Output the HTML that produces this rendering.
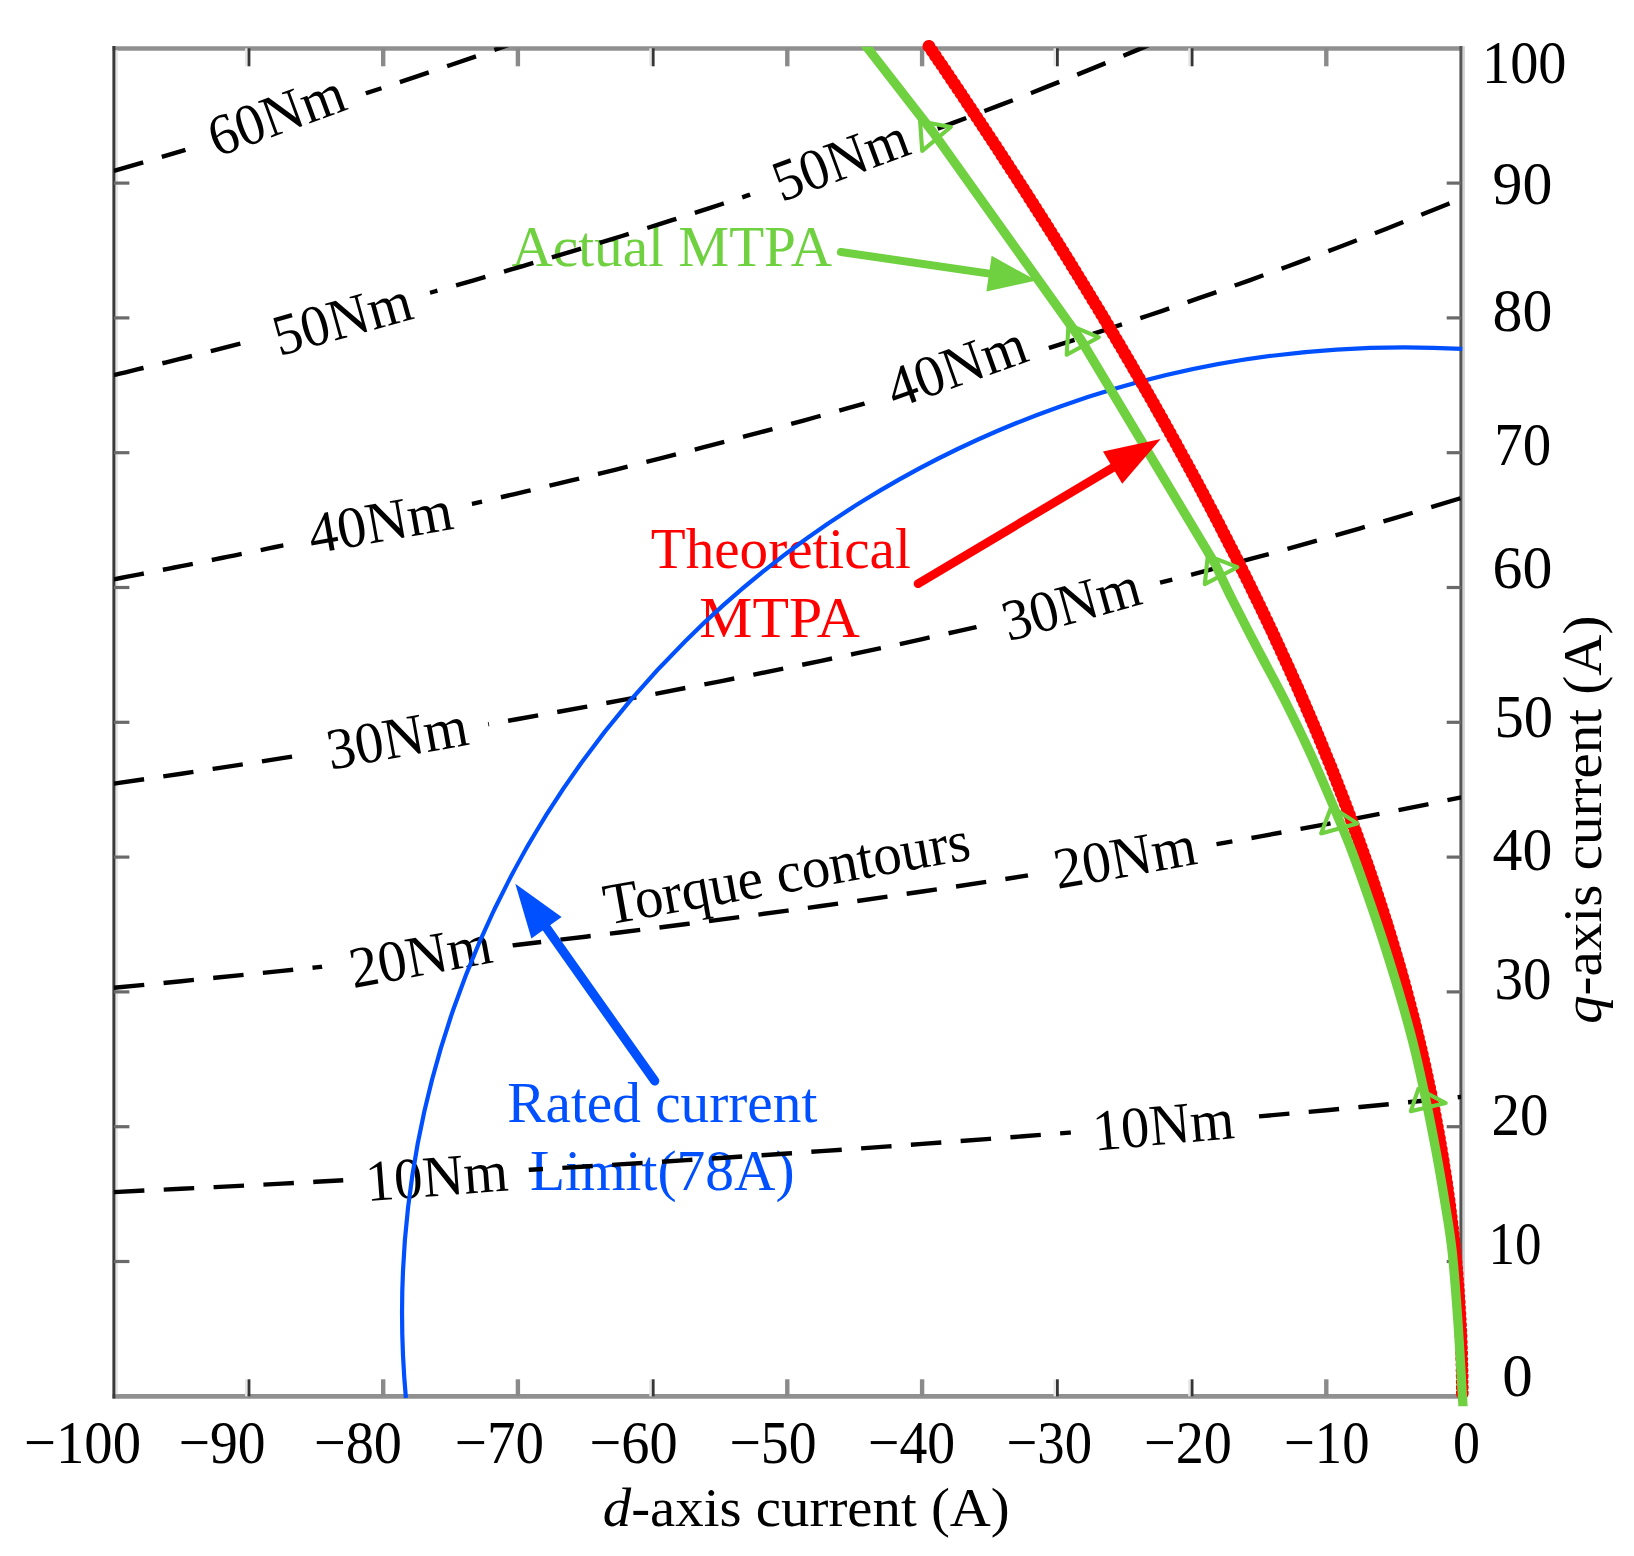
<!DOCTYPE html>
<html><head><meta charset="utf-8"><title>MTPA trajectories</title>
<style>html,body{margin:0;padding:0;background:#fff}body{width:1634px;height:1556px;overflow:hidden}</style></head>
<body>
<svg width="1634" height="1556" viewBox="0 0 1634 1556" style="display:block">
<rect width="1634" height="1556" fill="#fff"/>
<defs>
<clipPath id="plot"><rect x="113.9" y="47.3" width="1347.3" height="1349.0"/></clipPath>
<clipPath id="plot2"><rect x="113.9" y="46.8" width="1355.3" height="1359.5"/></clipPath>
<mask id="lm" maskUnits="userSpaceOnUse" x="0" y="0" width="1634" height="1556"><rect width="1634" height="1556" fill="#fff"/>
<rect x="185.7" y="78.2" width="188.8" height="70" fill="#000" transform="rotate(-20.20 283.1 133.2)"/>
<rect x="249.9" y="282.2" width="189.0" height="70" fill="#000" transform="rotate(-15.60 347.4 337.2)"/>
<rect x="750.3" y="122.8" width="187.9" height="70" fill="#000" transform="rotate(-20.30 847.3 177.8)"/>
<rect x="284.2" y="486.3" width="192.9" height="70" fill="#000" transform="rotate(-10.10 383.6 541.3)"/>
<rect x="864.0" y="329.6" width="192.2" height="70" fill="#000" transform="rotate(-19.70 963.1 384.6)"/>
<rect x="302.7" y="702.0" width="189.9" height="70" fill="#000" transform="rotate(-10.25 400.6 757.0)"/>
<rect x="979.0" y="567.5" width="188.7" height="70" fill="#000" transform="rotate(-15.60 1076.4 622.5)"/>
<rect x="325.3" y="920.2" width="191.3" height="70" fill="#000" transform="rotate(-10.50 423.9 975.2)"/>
<rect x="1029.7" y="821.4" width="191.1" height="70" fill="#000" transform="rotate(-10.20 1128.2 876.4)"/>
<rect x="344.8" y="1140.7" width="185.7" height="70" fill="#000" transform="rotate(-4.40 440.6 1195.7)"/>
<rect x="1072.3" y="1089.1" width="184.6" height="70" fill="#000" transform="rotate(-5.20 1167.6 1144.1)"/>
</mask>
</defs>
<g fill="none">
<line x1="112.5" y1="48.5" x2="1462.4" y2="48.5" stroke="#909090" stroke-width="4.7"/>
<line x1="112.5" y1="1396.3" x2="1462.4" y2="1396.3" stroke="#909090" stroke-width="4.7"/>
<line x1="116.6" y1="50.3" x2="116.6" y2="1394.3" stroke="#e6e6e6" stroke-width="2.6"/>
<line x1="1463.6" y1="46.3" x2="1463.6" y2="1398.3" stroke="#d2d2d2" stroke-width="2.6"/>
<line x1="113.9" y1="46.1" x2="113.9" y2="1398.5" stroke="#3a3a3a" stroke-width="3"/>
<line x1="1460.9" y1="46.1" x2="1460.9" y2="1398.5" stroke="#555" stroke-width="3"/>
<line x1="246.4" y1="48.3" x2="246.4" y2="66.3" stroke="#e6e6e6" stroke-width="2.6"/>
<line x1="249.0" y1="48.3" x2="249.0" y2="66.3" stroke="#363636" stroke-width="2.8"/>
<line x1="246.4" y1="1396.3" x2="246.4" y2="1379.3" stroke="#e6e6e6" stroke-width="2.6"/>
<line x1="249.0" y1="1396.3" x2="249.0" y2="1379.3" stroke="#363636" stroke-width="2.8"/>
<line x1="113.9" y1="183.1" x2="129.4" y2="183.1" stroke="#6a6a6a" stroke-width="3.2"/>
<line x1="1461.2" y1="183.1" x2="1446.7" y2="183.1" stroke="#6a6a6a" stroke-width="3.2"/>
<line x1="383.2" y1="48.3" x2="383.2" y2="66.3" stroke="#8a8a8a" stroke-width="4.4"/>
<line x1="383.2" y1="1396.3" x2="383.2" y2="1379.3" stroke="#8a8a8a" stroke-width="4.4"/>
<line x1="113.9" y1="317.9" x2="129.4" y2="317.9" stroke="#6a6a6a" stroke-width="3.2"/>
<line x1="1461.2" y1="317.9" x2="1446.7" y2="317.9" stroke="#6a6a6a" stroke-width="3.2"/>
<line x1="517.9" y1="48.3" x2="517.9" y2="66.3" stroke="#8a8a8a" stroke-width="4.4"/>
<line x1="517.9" y1="1396.3" x2="517.9" y2="1379.3" stroke="#8a8a8a" stroke-width="4.4"/>
<line x1="113.9" y1="452.7" x2="129.4" y2="452.7" stroke="#6a6a6a" stroke-width="3.2"/>
<line x1="1461.2" y1="452.7" x2="1446.7" y2="452.7" stroke="#6a6a6a" stroke-width="3.2"/>
<line x1="650.6" y1="48.3" x2="650.6" y2="66.3" stroke="#e6e6e6" stroke-width="2.6"/>
<line x1="653.2" y1="48.3" x2="653.2" y2="66.3" stroke="#363636" stroke-width="2.8"/>
<line x1="650.6" y1="1396.3" x2="650.6" y2="1379.3" stroke="#e6e6e6" stroke-width="2.6"/>
<line x1="653.2" y1="1396.3" x2="653.2" y2="1379.3" stroke="#363636" stroke-width="2.8"/>
<line x1="113.9" y1="587.5" x2="129.4" y2="587.5" stroke="#6a6a6a" stroke-width="3.2"/>
<line x1="1461.2" y1="587.5" x2="1446.7" y2="587.5" stroke="#6a6a6a" stroke-width="3.2"/>
<line x1="787.3" y1="48.3" x2="787.3" y2="66.3" stroke="#8a8a8a" stroke-width="4.4"/>
<line x1="787.3" y1="1396.3" x2="787.3" y2="1379.3" stroke="#8a8a8a" stroke-width="4.4"/>
<line x1="113.9" y1="722.3" x2="129.4" y2="722.3" stroke="#6a6a6a" stroke-width="3.2"/>
<line x1="1461.2" y1="722.3" x2="1446.7" y2="722.3" stroke="#6a6a6a" stroke-width="3.2"/>
<line x1="922.1" y1="48.3" x2="922.1" y2="66.3" stroke="#8a8a8a" stroke-width="4.4"/>
<line x1="922.1" y1="1396.3" x2="922.1" y2="1379.3" stroke="#8a8a8a" stroke-width="4.4"/>
<line x1="113.9" y1="857.1" x2="129.4" y2="857.1" stroke="#6a6a6a" stroke-width="3.2"/>
<line x1="1461.2" y1="857.1" x2="1446.7" y2="857.1" stroke="#6a6a6a" stroke-width="3.2"/>
<line x1="1054.8" y1="48.3" x2="1054.8" y2="66.3" stroke="#e6e6e6" stroke-width="2.6"/>
<line x1="1057.4" y1="48.3" x2="1057.4" y2="66.3" stroke="#363636" stroke-width="2.8"/>
<line x1="1054.8" y1="1396.3" x2="1054.8" y2="1379.3" stroke="#e6e6e6" stroke-width="2.6"/>
<line x1="1057.4" y1="1396.3" x2="1057.4" y2="1379.3" stroke="#363636" stroke-width="2.8"/>
<line x1="113.9" y1="991.9" x2="129.4" y2="991.9" stroke="#6a6a6a" stroke-width="3.2"/>
<line x1="1461.2" y1="991.9" x2="1446.7" y2="991.9" stroke="#6a6a6a" stroke-width="3.2"/>
<line x1="1189.5" y1="48.3" x2="1189.5" y2="66.3" stroke="#e6e6e6" stroke-width="2.6"/>
<line x1="1192.1" y1="48.3" x2="1192.1" y2="66.3" stroke="#363636" stroke-width="2.8"/>
<line x1="1189.5" y1="1396.3" x2="1189.5" y2="1379.3" stroke="#e6e6e6" stroke-width="2.6"/>
<line x1="1192.1" y1="1396.3" x2="1192.1" y2="1379.3" stroke="#363636" stroke-width="2.8"/>
<line x1="113.9" y1="1126.7" x2="129.4" y2="1126.7" stroke="#6a6a6a" stroke-width="3.2"/>
<line x1="1461.2" y1="1126.7" x2="1446.7" y2="1126.7" stroke="#6a6a6a" stroke-width="3.2"/>
<line x1="1326.3" y1="48.3" x2="1326.3" y2="66.3" stroke="#8a8a8a" stroke-width="4.4"/>
<line x1="1326.3" y1="1396.3" x2="1326.3" y2="1379.3" stroke="#8a8a8a" stroke-width="4.4"/>
<line x1="113.9" y1="1261.5" x2="129.4" y2="1261.5" stroke="#6a6a6a" stroke-width="3.2"/>
<line x1="1461.2" y1="1261.5" x2="1446.7" y2="1261.5" stroke="#6a6a6a" stroke-width="3.2"/>
</g>
<g font-family='"Liberation Serif", serif'>
<text x="511.5" y="265.6" font-size="57.0" fill="#6fd040" text-anchor="start" textLength="320.5" lengthAdjust="spacingAndGlyphs">Actual MTPA</text>
<text x="650.8" y="568.2" font-size="57.0" fill="#ff0000" text-anchor="start" textLength="260.0" lengthAdjust="spacingAndGlyphs">Theoretical</text>
<text x="699.3" y="636.9" font-size="57.0" fill="#ff0000" text-anchor="start" textLength="160.5" lengthAdjust="spacingAndGlyphs">MTPA</text>
<text x="507.3" y="1121.6" font-size="57.0" fill="#0050ff" text-anchor="start" textLength="310.0" lengthAdjust="spacingAndGlyphs">Rated current</text>
<text x="530.0" y="1190.3" font-size="57.0" fill="#0050ff" text-anchor="start" textLength="264.5" lengthAdjust="spacingAndGlyphs">Limit(78A)</text>
</g>
<g clip-path="url(#plot)"><g mask="url(#lm)" fill="none" stroke="#000" stroke-width="4.4" stroke-dasharray="30.5 19.4">
<path d="M113.9 1192.1 L147.6 1190.4 L181.3 1188.8 L214.9 1187.1 L248.6 1185.4 L282.3 1183.6 L316.0 1181.8 L349.7 1180.0 L383.4 1178.2 L417.0 1176.3 L450.7 1174.4 L484.4 1172.5 L518.1 1170.5 L551.8 1168.5 L585.5 1166.5 L619.1 1164.4 L652.8 1162.3 L686.5 1160.1 L720.2 1158.0 L753.9 1155.7 L787.6 1153.5 L821.2 1151.1 L854.9 1148.8 L888.6 1146.4 L922.3 1143.9 L956.0 1141.4 L989.6 1138.9 L1023.3 1136.3 L1057.0 1133.6 L1090.7 1130.9 L1124.4 1128.1 L1158.1 1125.3 L1191.7 1122.4 L1225.4 1119.4 L1259.1 1116.4 L1292.8 1113.3 L1326.5 1110.2 L1360.2 1107.0 L1393.8 1103.7 L1427.5 1100.3 L1461.2 1096.9" stroke-dashoffset="0.0"/>
<path d="M113.9 987.8 L147.6 984.5 L181.3 981.2 L214.9 977.8 L248.6 974.4 L282.3 970.9 L316.0 967.4 L349.7 963.7 L383.4 960.1 L417.0 956.3 L450.7 952.5 L484.4 948.7 L518.1 944.7 L551.8 940.7 L585.5 936.7 L619.1 932.5 L652.8 928.3 L686.5 924.0 L720.2 919.6 L753.9 915.2 L787.6 910.6 L821.2 906.0 L854.9 901.3 L888.6 896.4 L922.3 891.5 L956.0 886.5 L989.6 881.4 L1023.3 876.2 L1057.0 870.9 L1090.7 865.5 L1124.4 859.9 L1158.1 854.3 L1191.7 848.5 L1225.4 842.6 L1259.1 836.6 L1292.8 830.4 L1326.5 824.1 L1360.2 817.6 L1393.8 811.1 L1427.5 804.3 L1461.2 797.4" stroke-dashoffset="0.0"/>
<path d="M113.9 783.6 L147.6 778.7 L181.3 773.7 L214.9 768.6 L248.6 763.5 L282.3 758.2 L316.0 752.9 L349.7 747.5 L383.4 742.0 L417.0 736.4 L450.7 730.7 L484.4 724.9 L518.1 719.0 L551.8 713.0 L585.5 706.9 L619.1 700.6 L652.8 694.3 L686.5 687.8 L720.2 681.3 L753.9 674.6 L787.6 667.8 L821.2 660.8 L854.9 653.7 L888.6 646.5 L922.3 639.1 L956.0 631.6 L989.6 624.0 L1023.3 616.2 L1057.0 608.2 L1090.7 600.0 L1124.4 591.7 L1158.1 583.2 L1191.7 574.6 L1225.4 565.7 L1259.1 556.7 L1292.8 547.4 L1326.5 538.0 L1360.2 528.3 L1393.8 518.4 L1427.5 508.3 L1461.2 498.0" stroke-dashoffset="0.0"/>
<path d="M113.9 579.3 L120.6 578.0 L127.4 576.7 L134.1 575.4 L140.8 574.1 L147.5 572.8 L154.3 571.5 L161.0 570.1 L167.7 568.8 L174.4 567.5 L181.2 566.2 L187.9 564.8 L194.6 563.5 L201.4 562.1 L208.1 560.8 L214.8 559.4 L221.5 558.0 L228.3 556.7 L235.0 555.3 L241.7 553.9 L248.5 552.5 L255.2 551.2 L261.9 549.8 L268.6 548.4 L275.4 547.0 L282.1 545.6 L288.8 544.2 L295.5 542.7 L302.3 541.3 L309.0 539.9 L315.7 538.5 L322.5 537.0 L329.2 535.6 L335.9 534.2 L342.6 532.7 L349.4 531.3 L356.1 529.8 L362.8 528.3 L369.5 526.9 L376.3 525.4 L383.0 523.9" stroke-dashoffset="0.0"/>
<path d="M383.0 523.9 L397.5 520.7 L412.0 517.5 L426.5 514.3 L441.0 511.0 L455.5 507.7 L470.0 504.4 L484.5 501.0 L499.0 497.7 L513.5 494.3 L528.0 490.9 L542.5 487.4 L557.0 483.9 L571.5 480.4 L586.0 476.9 L600.5 473.4 L615.0 469.8 L629.5 466.2 L644.0 462.5 L658.5 458.9 L673.0 455.2 L687.5 451.4 L702.0 447.7 L716.5 443.9 L731.0 440.1 L745.5 436.2 L760.0 432.4 L774.5 428.5 L789.0 424.5 L803.5 420.6 L818.0 416.5 L832.5 412.5 L847.0 408.4 L861.5 404.3 L876.0 400.2 L890.5 396.0 L905.0 391.8 L919.5 387.6 L934.0 383.3 L948.5 379.0 L963.0 374.6" stroke-dashoffset="28.8"/>
<path d="M963.0 374.6 L975.5 370.9 L987.9 367.1 L1000.4 363.2 L1012.8 359.4 L1025.3 355.5 L1037.7 351.6 L1050.2 347.6 L1062.6 343.7 L1075.1 339.7 L1087.6 335.6 L1100.0 331.6 L1112.5 327.5 L1124.9 323.4 L1137.4 319.2 L1149.8 315.0 L1162.3 310.8 L1174.7 306.5 L1187.2 302.2 L1199.6 297.9 L1212.1 293.6 L1224.6 289.2 L1237.0 284.7 L1249.5 280.3 L1261.9 275.8 L1274.4 271.2 L1286.8 266.7 L1299.3 262.1 L1311.7 257.4 L1324.2 252.7 L1336.7 248.0 L1349.1 243.2 L1361.6 238.4 L1374.0 233.6 L1386.5 228.7 L1398.9 223.8 L1411.4 218.8 L1423.8 213.8 L1436.3 208.8 L1448.7 203.7 L1461.2 198.5" stroke-dashoffset="13.5"/>
<path d="M113.9 375.1 L119.7 373.7 L125.6 372.3 L131.4 370.9 L137.2 369.4 L143.0 368.0 L148.9 366.6 L154.7 365.2 L160.5 363.7 L166.3 362.3 L172.2 360.8 L178.0 359.4 L183.8 358.0 L189.7 356.5 L195.5 355.0 L201.3 353.6 L207.1 352.1 L213.0 350.6 L218.8 349.2 L224.6 347.7 L230.5 346.2 L236.3 344.7 L242.1 343.2 L247.9 341.7 L253.8 340.2 L259.6 338.7 L265.4 337.2 L271.2 335.7 L277.1 334.2 L282.9 332.7 L288.7 331.1 L294.6 329.6 L300.4 328.1 L306.2 326.5 L312.0 325.0 L317.9 323.5 L323.7 321.9 L329.5 320.3 L335.3 318.8 L341.2 317.2 L347.0 315.6" stroke-dashoffset="0.0"/>
<path d="M347.0 315.6 L359.5 312.3 L372.0 308.9 L384.5 305.4 L397.0 302.0 L409.5 298.5 L422.0 295.0 L434.5 291.5 L447.0 288.0 L459.5 284.4 L472.0 280.8 L484.5 277.2 L497.0 273.6 L509.5 269.9 L522.0 266.3 L534.5 262.6 L547.0 258.8 L559.5 255.1 L572.0 251.3 L584.5 247.5 L597.0 243.7 L609.5 239.8 L622.0 236.0 L634.5 232.1 L647.0 228.1 L659.5 224.2 L672.0 220.2 L684.5 216.2 L697.0 212.2 L709.5 208.1 L722.0 204.0 L734.5 199.9 L747.0 195.7 L759.5 191.6 L772.0 187.3 L784.5 183.1 L797.0 178.8 L809.5 174.5 L822.0 170.2 L834.5 165.9 L847.0 161.5" stroke-dashoffset="36.5"/>
<path d="M847.0 161.5 L862.4 156.0 L877.7 150.6 L893.1 145.0 L908.4 139.5 L923.8 133.8 L939.1 128.1 L954.5 122.4 L969.8 116.6 L985.2 110.8 L1000.6 104.9 L1015.9 99.0 L1031.3 93.0 L1046.6 86.9 L1062.0 80.8 L1077.3 74.6 L1092.7 68.4 L1108.0 62.1 L1123.4 55.8 L1138.7 49.4 L1154.1 42.9 L1169.5 36.4 L1184.8 29.8 L1200.2 23.1 L1215.5 16.4 L1230.9 9.6 L1246.2 2.7 L1261.6 -4.2 L1276.9 -11.2 L1292.3 -18.3 L1307.7 -25.4 L1323.0 -32.6 L1338.4 -39.9 L1353.7 -47.2 L1369.1 -54.7 L1384.4 -62.2 L1399.8 -69.8 L1415.1 -77.4 L1430.5 -85.2 L1445.8 -93.0 L1461.2 -100.9" stroke-dashoffset="3.4"/>
<path d="M113.9 170.8 L147.6 161.0 L181.3 151.1 L214.9 140.9 L248.6 130.6 L282.3 120.1 L316.0 109.5 L349.7 98.6 L383.4 87.6 L417.0 76.4 L450.7 65.0 L484.4 53.4 L518.1 41.6 L551.8 29.6 L585.5 17.4 L619.1 5.0 L652.8 -7.7 L686.5 -20.6 L720.2 -33.7 L753.9 -47.1 L787.6 -60.8 L821.2 -74.7 L854.9 -88.8 L888.6 -103.3 L922.3 -118.0 L956.0 -133.0 L989.6 -148.4 L1023.3 -164.0 L1057.0 -179.9 L1090.7 -196.2 L1124.4 -212.8 L1158.1 -229.8 L1191.7 -247.1 L1225.4 -264.9 L1259.1 -282.9 L1292.8 -301.4 L1326.5 -320.3 L1360.2 -339.7 L1393.8 -359.4 L1427.5 -379.7 L1461.2 -400.3" stroke-dashoffset="0.0"/>
</g></g>
<g font-family='"Liberation Serif", serif' font-size="58.5" text-anchor="middle">
<text x="283.1" y="133.2" transform="rotate(-20.20 283.1 133.2)" textLength="141.3" lengthAdjust="spacingAndGlyphs">60Nm</text>
<text x="347.4" y="337.2" transform="rotate(-15.60 347.4 337.2)" textLength="141.5" lengthAdjust="spacingAndGlyphs">50Nm</text>
<text x="847.3" y="177.8" transform="rotate(-20.30 847.3 177.8)" textLength="140.4" lengthAdjust="spacingAndGlyphs">50Nm</text>
<text x="383.6" y="541.3" transform="rotate(-10.10 383.6 541.3)" textLength="145.4" lengthAdjust="spacingAndGlyphs">40Nm</text>
<text x="963.1" y="384.6" transform="rotate(-19.70 963.1 384.6)" textLength="144.7" lengthAdjust="spacingAndGlyphs">40Nm</text>
<text x="400.6" y="757.0" transform="rotate(-10.25 400.6 757.0)" textLength="142.4" lengthAdjust="spacingAndGlyphs">30Nm</text>
<text x="1076.4" y="622.5" transform="rotate(-15.60 1076.4 622.5)" textLength="141.2" lengthAdjust="spacingAndGlyphs">30Nm</text>
<text x="423.9" y="975.2" transform="rotate(-10.50 423.9 975.2)" textLength="143.8" lengthAdjust="spacingAndGlyphs">20Nm</text>
<text x="1128.2" y="876.4" transform="rotate(-10.20 1128.2 876.4)" textLength="143.6" lengthAdjust="spacingAndGlyphs">20Nm</text>
<text x="438.1" y="1195.7" transform="rotate(-4.40 440.6 1195.7)" textLength="142.7" lengthAdjust="spacingAndGlyphs">10Nm</text>
<text x="1165.1" y="1144.1" transform="rotate(-5.20 1167.6 1144.1)" textLength="141.6" lengthAdjust="spacingAndGlyphs">10Nm</text>
<text x="607.5" y="924.7" text-anchor="start" transform="rotate(-10.2 607.5 924.7)" textLength="371" lengthAdjust="spacingAndGlyphs">Torque contours</text>
</g>
<path d="M405.9 1398 A1003.4 967 0 0 1 1462.3 348.9" fill="none" stroke="#0050ff" stroke-width="4.2"/>
<path d="M1462.3 1396.3 L1462.3 1389.5 L1462.2 1382.8 L1462.2 1376.0 L1462.0 1369.3 L1461.9 1362.5 L1461.7 1355.8 L1461.5 1349.0 L1461.3 1342.3 L1461.0 1335.5 L1460.7 1328.8 L1460.4 1322.0 L1460.0 1315.3 L1459.6 1308.5 L1459.2 1301.8 L1458.7 1295.0 L1458.3 1288.3 L1457.7 1281.5 L1457.2 1274.8 L1456.6 1268.0 L1456.0 1261.3 L1455.3 1254.5 L1454.7 1247.8 L1454.0 1241.0 L1453.2 1234.3 L1452.5 1227.5 L1451.7 1220.8 L1450.8 1214.0 L1450.0 1207.3 L1449.1 1200.5 L1448.1 1193.8 L1447.2 1187.0 L1446.2 1180.3 L1445.2 1173.5 L1444.1 1166.8 L1443.1 1160.0 L1442.0 1153.3 L1440.8 1146.5 L1439.7 1139.8 L1438.5 1133.0 L1437.2 1126.3 L1436.0 1119.5 L1434.7 1112.8 L1433.4 1106.0 L1432.0 1099.3 L1430.7 1092.5 L1429.2 1085.8 L1427.8 1079.0 L1426.3 1072.3 L1424.9 1065.5 L1423.3 1058.8 L1421.8 1052.0 L1420.2 1045.3 L1418.6 1038.5 L1416.9 1031.8 L1415.3 1025.0 L1413.6 1018.3 L1411.8 1011.5 L1410.1 1004.8 L1408.3 998.0 L1406.5 991.3 L1404.7 984.5 L1402.8 977.8 L1400.9 971.0 L1399.0 964.3 L1397.0 957.5 L1395.0 950.8 L1393.0 944.0 L1391.0 937.3 L1388.9 930.5 L1386.9 923.8 L1384.7 917.0 L1382.6 910.3 L1380.4 903.5 L1378.2 896.8 L1376.0 890.0 L1373.8 883.3 L1371.5 876.5 L1369.2 869.8 L1366.9 863.0 L1364.5 856.3 L1362.1 849.5 L1359.7 842.8 L1357.3 836.0 L1354.8 829.3 L1352.3 822.5 L1349.8 815.8 L1347.3 809.0 L1344.7 802.3 L1342.2 795.5 L1339.5 788.8 L1336.9 782.0 L1334.3 775.3 L1331.6 768.5 L1328.9 761.8 L1326.1 755.0 L1323.4 748.3 L1320.6 741.5 L1317.8 734.8 L1315.0 728.0 L1312.1 721.3 L1309.2 714.5 L1306.3 707.8 L1303.4 701.0 L1300.5 694.3 L1297.5 687.5 L1294.5 680.8 L1291.5 674.0 L1288.5 667.3 L1285.4 660.5 L1282.3 653.8 L1279.2 647.0 L1276.1 640.3 L1273.0 633.5 L1269.8 626.8 L1266.6 620.0 L1263.4 613.3 L1260.2 606.5 L1256.9 599.8 L1253.6 593.0 L1250.4 586.3 L1247.0 579.5 L1243.7 572.8 L1240.3 566.0 L1237.0 559.3 L1233.6 552.5 L1230.1 545.8 L1226.7 539.0 L1223.2 532.3 L1219.8 525.5 L1216.3 518.8 L1212.7 512.0 L1209.2 505.3 L1205.6 498.5 L1202.1 491.8 L1198.5 485.0 L1194.9 478.3 L1191.2 471.5 L1187.6 464.8 L1183.9 458.0 L1180.2 451.3 L1176.5 444.5 L1172.8 437.8 L1169.0 431.0 L1165.3 424.3 L1161.5 417.5 L1157.7 410.8 L1153.9 404.0 L1150.0 397.3 L1146.2 390.5 L1142.3 383.8 L1138.4 377.0 L1134.5 370.3 L1130.6 363.5 L1126.6 356.8 L1122.7 350.0 L1118.7 343.3 L1114.7 336.5 L1110.7 329.8 L1106.7 323.0 L1102.7 316.3 L1098.6 309.5 L1094.5 302.8 L1090.4 296.0 L1086.3 289.3 L1082.2 282.5 L1078.1 275.8 L1073.9 269.0 L1069.8 262.3 L1065.6 255.5 L1061.4 248.8 L1057.2 242.0 L1053.0 235.3 L1048.7 228.5 L1044.5 221.8 L1040.2 215.0 L1035.9 208.3 L1031.6 201.5 L1027.3 194.8 L1023.0 188.0 L1018.6 181.3 L1014.3 174.5 L1009.9 167.8 L1005.5 161.0 L1001.1 154.3 L996.7 147.5 L992.3 140.8 L987.8 134.0 L983.4 127.3 L978.9 120.5 L974.4 113.8 L969.9 107.0 L965.4 100.3 L960.9 93.5 L956.4 86.8 L951.8 80.0 L947.3 73.3 L942.7 66.5 L938.1 59.8 L933.5 53.0 L928.9 46.3" fill="none" stroke="#ff0000" stroke-width="9.2" stroke-linecap="round"/>
<path d="M928.9 46.3 L933.5 53.0 L938.1 59.8 L942.7 66.5 L947.3 73.3 L951.8 80.0 L956.4 86.8 L960.9 93.5 L965.4 100.3 L969.9 107.0 L974.4 113.8 L978.9 120.5 L983.4 127.3 L987.8 134.0 L992.3 140.8 L996.7 147.5 L1001.1 154.3 L1005.5 161.0 L1009.9 167.8 L1014.3 174.5 L1018.6 181.3 L1023.0 188.0 L1027.3 194.8 L1031.6 201.5 L1035.9 208.3 L1040.2 215.0 L1044.5 221.8 L1048.7 228.5 L1053.0 235.3 L1057.2 242.0 L1061.4 248.8 L1065.6 255.5 L1069.8 262.3 L1073.9 269.0 L1078.1 275.8 L1082.2 282.5 L1086.3 289.3 L1090.4 296.0 L1094.5 302.8 L1098.6 309.5 L1102.7 316.3 L1106.7 323.0 L1110.7 329.8 L1114.7 336.5 L1118.7 343.3 L1122.7 350.0 L1126.6 356.8 L1130.6 363.5 L1134.5 370.3 L1138.4 377.0 L1142.3 383.8 L1146.2 390.5 L1150.0 397.3 L1153.9 404.0 L1157.7 410.8 L1161.5 417.5 L1165.3 424.3 L1169.0 431.0 L1172.8 437.8 L1176.5 444.5 L1180.2 451.3 L1183.9 458.0 L1187.6 464.8 L1191.2 471.5 L1194.9 478.3 L1198.5 485.0 L1202.1 491.8 L1205.6 498.5 L1209.2 505.3 L1212.7 512.0 L1216.3 518.8 L1219.8 525.5 L1223.2 532.3 L1226.7 539.0 L1230.1 545.8 L1233.6 552.5 L1237.0 559.3 L1240.3 566.0 L1243.7 572.8 L1247.0 579.5 L1250.4 586.3 L1253.6 593.0 L1256.9 599.8 L1260.2 606.5 L1263.4 613.3 L1266.6 620.0 L1269.8 626.8 L1273.0 633.5 L1276.1 640.3 L1279.2 647.0 L1282.3 653.8 L1285.4 660.5 L1288.5 667.3 L1291.5 674.0 L1294.5 680.8 L1297.5 687.5 L1300.5 694.3 L1303.4 701.0 L1306.3 707.8 L1309.2 714.5 L1312.1 721.3 L1315.0 728.0 L1317.8 734.8 L1320.6 741.5 L1323.4 748.3 L1326.1 755.0 L1328.9 761.8 L1331.6 768.5 L1334.3 775.3 L1336.9 782.0 L1339.5 788.8 L1342.2 795.5 L1344.7 802.3 L1347.3 809.0 L1349.8 815.8 L1352.3 822.5 L1354.8 829.3 L1357.3 836.0 L1359.7 842.8 L1362.1 849.5 L1364.5 856.3 L1366.9 863.0 L1369.2 869.8 L1371.5 876.5 L1373.8 883.3 L1376.0 890.0 L1378.2 896.8 L1380.4 903.5 L1382.6 910.3 L1384.7 917.0 L1386.9 923.8 L1388.9 930.5 L1391.0 937.3 L1393.0 944.0 L1395.0 950.8 L1397.0 957.5 L1399.0 964.3 L1400.9 971.0 L1402.8 977.8 L1404.7 984.5 L1406.5 991.3 L1408.3 998.0 L1410.1 1004.8 L1411.8 1011.5 L1413.6 1018.3 L1415.3 1025.0 L1416.9 1031.8 L1418.6 1038.5 L1420.2 1045.3 L1421.8 1052.0 L1423.3 1058.8 L1424.9 1065.5 L1426.3 1072.3 L1427.8 1079.0 L1429.2 1085.8 L1430.7 1092.5 L1432.0 1099.3 L1433.4 1106.0 L1434.7 1112.8 L1436.0 1119.5 L1437.2 1126.3 L1438.5 1133.0 L1439.7 1139.8 L1440.8 1146.5 L1442.0 1153.3 L1443.1 1160.0 L1444.1 1166.8 L1445.2 1173.5 L1446.2 1180.3 L1447.2 1187.0 L1448.1 1193.8 L1449.1 1200.5 L1450.0 1207.3 L1450.8 1214.0 L1451.7 1220.8 L1452.5 1227.5 L1453.2 1234.3 L1454.0 1241.0 L1454.7 1247.8 L1455.3 1254.5 L1456.0 1261.3 L1456.6 1268.0 L1457.2 1274.8 L1457.7 1281.5 L1458.3 1288.3 L1458.7 1295.0 L1459.2 1301.8 L1459.6 1308.5 L1460.0 1315.3 L1460.4 1322.0 L1460.7 1328.8 L1461.0 1335.5 L1461.3 1342.3 L1461.5 1349.0 L1461.7 1355.8 L1461.9 1362.5 L1462.0 1369.3 L1462.2 1376.0 L1462.2 1382.8 L1462.3 1389.5 L1462.3 1396.3" fill="none" stroke="#ff0000" stroke-width="12.8" stroke-linecap="round" stroke-dasharray="0.1 5.6"/>
<g clip-path="url(#plot2)">
<path d="M859.7 38.0 L867.5 48.0 L933.3 132.6 L1080.4 339.0 L1215.8 565.2  C1218.6 571.0 1225.4 585.9 1232.5 600.0 C1239.6 614.1 1249.5 633.3 1258.2 650.0 C1266.9 666.7 1276.2 683.3 1284.6 700.0 C1293.0 716.7 1301.1 733.3 1308.8 750.0 C1316.5 766.7 1323.6 783.3 1330.7 800.0 C1337.8 816.7 1345.0 833.3 1351.4 850.0 C1357.8 866.7 1363.5 883.3 1369.3 900.0 C1375.1 916.7 1380.7 933.3 1386.0 950.0 C1391.3 966.7 1396.5 983.3 1401.3 1000.0 C1406.1 1016.7 1410.8 1033.6 1414.8 1050.0 C1418.8 1066.4 1422.1 1081.8 1425.6 1098.5 C1429.1 1115.2 1432.6 1133.1 1435.8 1150.0 C1439.0 1166.9 1441.8 1183.3 1444.5 1200.0 C1447.2 1216.7 1449.8 1230.0 1452.0 1250.0 C1454.2 1270.0 1456.1 1296.0 1457.8 1320.0 C1459.5 1344.0 1461.4 1379.3 1462.3 1394.0 C1463.2 1408.7 1462.9 1405.7 1463.0 1408.0" fill="none" stroke="#6fd040" stroke-width="9.3" stroke-linejoin="round"/>
</g>
<polygon points="920.1,121.3 922.2,150.9 950.8,127.0" fill="none" stroke="#6fd040" stroke-width="4.1" stroke-linejoin="round"/>
<polygon points="1068.5,324.6 1066.7,354.8 1098.8,337.3" fill="none" stroke="#6fd040" stroke-width="4.1" stroke-linejoin="round"/>
<polygon points="1207.8,555.7 1204.8,584.1 1237.4,567.2" fill="none" stroke="#6fd040" stroke-width="4.1" stroke-linejoin="round"/>
<polygon points="1331.3,806.7 1321.1,833.4 1357.3,823.4" fill="none" stroke="#6fd040" stroke-width="4.1" stroke-linejoin="round"/>
<polygon points="1418.4,1088.8 1410.8,1111.2 1445.7,1103.1" fill="none" stroke="#6fd040" stroke-width="4.1" stroke-linejoin="round"/>
<line x1="841.0" y1="252.0" x2="991.0" y2="273.9" stroke="#6fd040" stroke-width="8.0" stroke-linecap="round"/><polygon points="1036.5,280.6 986.4,291.5 991.6,255.8" fill="#6fd040"/>
<line x1="918.0" y1="583.8" x2="1114.3" y2="466.7" stroke="#ff0000" stroke-width="8.6" stroke-linecap="round"/><polygon points="1160.7,439.0 1122.2,483.8 1103.0,451.6" fill="#ff0000"/>
<line x1="654.7" y1="1080.9" x2="545.3" y2="926.2" stroke="#0050ff" stroke-width="9.2" stroke-linecap="round"/><polygon points="515.3,883.7 561.6,917.1 531.4,938.5" fill="#0050ff"/>
<g font-family='"Liberation Serif", serif' font-size="61" fill="#000">
<text x="24.0" y="1462.5" textLength="117.0" lengthAdjust="spacingAndGlyphs">−100</text>
<text x="178.7" y="1462.5" textLength="86.8" lengthAdjust="spacingAndGlyphs">−90</text>
<text x="314.0" y="1462.5" textLength="88.0" lengthAdjust="spacingAndGlyphs">−80</text>
<text x="454.7" y="1462.5" textLength="89.3" lengthAdjust="spacingAndGlyphs">−70</text>
<text x="589.6" y="1462.5" textLength="88.1" lengthAdjust="spacingAndGlyphs">−60</text>
<text x="729.4" y="1462.5" textLength="87.2" lengthAdjust="spacingAndGlyphs">−50</text>
<text x="868.0" y="1462.5" textLength="87.2" lengthAdjust="spacingAndGlyphs">−40</text>
<text x="1006.5" y="1462.5" textLength="85.5" lengthAdjust="spacingAndGlyphs">−30</text>
<text x="1144.0" y="1462.5" textLength="88.0" lengthAdjust="spacingAndGlyphs">−20</text>
<text x="1284.0" y="1462.5" textLength="85.5" lengthAdjust="spacingAndGlyphs">−10</text>
<text x="1466.6" y="1462.5" text-anchor="middle" textLength="27" lengthAdjust="spacingAndGlyphs">0</text>
<text x="1482.0" y="83.0" textLength="84.5" lengthAdjust="spacingAndGlyphs">100</text>
<text x="1492.5" y="204.0" textLength="59.8" lengthAdjust="spacingAndGlyphs">90</text>
<text x="1492.5" y="331.2" textLength="59.8" lengthAdjust="spacingAndGlyphs">80</text>
<text x="1494.2" y="464.5" textLength="57.0" lengthAdjust="spacingAndGlyphs">70</text>
<text x="1492.5" y="587.6" textLength="59.8" lengthAdjust="spacingAndGlyphs">60</text>
<text x="1494.5" y="737.2" textLength="58.7" lengthAdjust="spacingAndGlyphs">50</text>
<text x="1492.5" y="870.4" textLength="59.8" lengthAdjust="spacingAndGlyphs">40</text>
<text x="1494.5" y="999.0" textLength="57.0" lengthAdjust="spacingAndGlyphs">30</text>
<text x="1491.5" y="1135.2" textLength="57.0" lengthAdjust="spacingAndGlyphs">20</text>
<text x="1488.5" y="1263.5" textLength="53.0" lengthAdjust="spacingAndGlyphs">10</text>
<text x="1517.5" y="1396" text-anchor="middle">0</text>
</g>
<g font-family='"Liberation Serif", serif' font-size="54.5" fill="#000">
<text x="602.8" y="1526" textLength="407" lengthAdjust="spacingAndGlyphs"><tspan font-style="italic">d</tspan>-axis current (A)</text>
<text x="0" y="0" transform="translate(1600.5 1024) rotate(-90)" textLength="408.5" lengthAdjust="spacingAndGlyphs"><tspan font-style="italic">q</tspan>-axis current (A)</text>
</g>
</svg>
</body></html>
